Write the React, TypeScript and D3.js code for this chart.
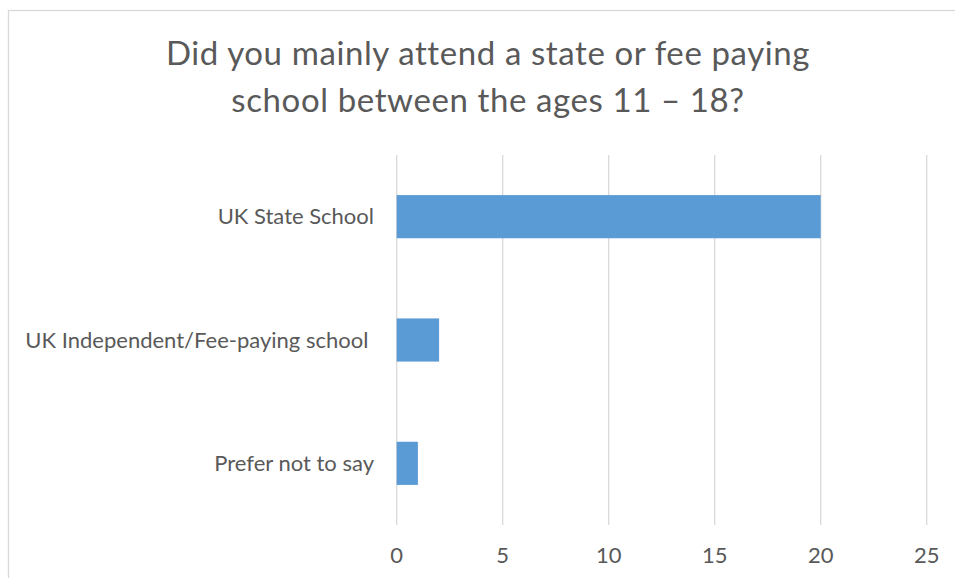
import React from "react";
import * as d3 from "d3";

const categories = ["UK State School", "UK Independent/Fee-paying school ", "Prefer not to say"];
const values = [20, 2, 1];
const xTicks = [0, 5, 10, 15, 20, 25];
const titleLines = ["Did you mainly attend a state or fee paying", "school between the ages 11 \u2013 18?"];

const W = 955;
const H = 578;
const FONT = "Lato, 'Open Sans', sans-serif";
const TEXT = "#595959";
const GRID = "#d9d9d9";
const BAR = "#5b9bd5";

export default function App() {
  const plot = { left: 396.7, right: 926.7, top: 155, bottom: 525 };
  const x = d3.scaleLinear().domain([0, 25]).range([plot.left, plot.right]);
  const y = d3
    .scaleBand<string>()
    .domain(categories)
    .range([plot.top, plot.bottom])
    .paddingInner(0.65)
    .paddingOuter(0.325);

  return (
    <svg
      width={W}
      height={H}
      style={{ position: "absolute", left: 0, top: 0, background: "#fff" }}
      fontFamily={FONT}
    >
      <rect x={8.5} y={10.5} width={1000} height={700} fill="#fff" stroke={GRID} strokeWidth={1.3} />
      <g fill={TEXT} fontSize={33} textAnchor="middle" letterSpacing={0.6}>
        {titleLines.map((t, i) => (
          <text key={i} x={488} y={64.5 + i * 47}>
            {t}
          </text>
        ))}
      </g>
      <g>
        {xTicks.map((t) => (
          <line key={t} x1={x(t)} x2={x(t)} y1={plot.top} y2={plot.bottom} stroke={GRID} strokeWidth={1.3} />
        ))}
      </g>
      <g>
        {categories.map((c, i) => (
          <rect
            key={c}
            x={x(0)}
            y={y(c)!}
            width={x(values[i]) - x(0)}
            height={y.bandwidth()}
            fill={BAR}
          />
        ))}
      </g>
      <g fill={TEXT} fontSize={22} textAnchor="end">
        {categories.map((c) => (
          <text key={c} x={374} y={y(c)! + y.bandwidth() / 2} dy="0.35em" style={{ whiteSpace: "pre" }}>
            {c}
          </text>
        ))}
      </g>
      <g fill={TEXT} fontSize={22} textAnchor="middle">
        {xTicks.map((t) => (
          <text key={t} x={x(t)} y={563}>
            {t}
          </text>
        ))}
      </g>
    </svg>
  );
}
